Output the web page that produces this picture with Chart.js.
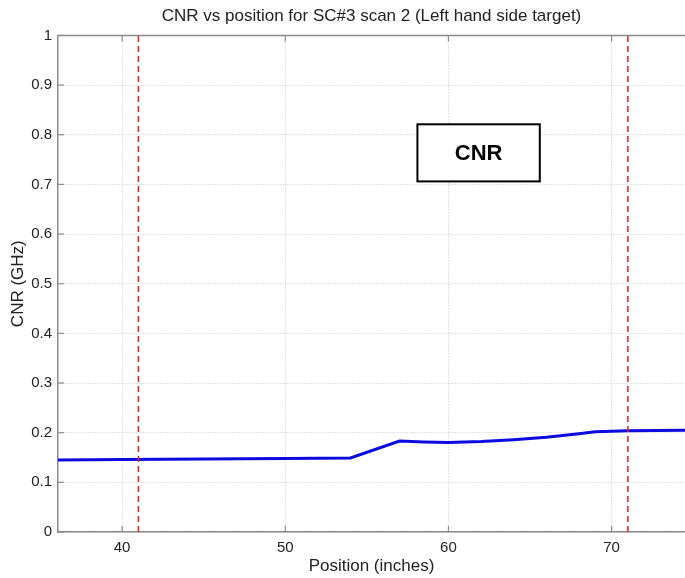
<!DOCTYPE html>
<html><head><meta charset="utf-8">
<script src="https://cdn.jsdelivr.net/npm/chart.js@4/dist/chart.umd.min.js"></script>
<style>html,body{margin:0;padding:0;background:#fff;overflow:hidden}#wrap{width:685px;height:578px}</style>
</head><body><div id="wrap"><canvas id="c" width="685" height="578"></canvas></div>
<script>
const positions = [36, 40, 45, 50, 54, 57, 58.5, 60, 62, 64, 66, 68, 69, 71, 74.5];
const cnrValues = [0.145, 0.146, 0.147, 0.148, 0.149, 0.183, 0.181, 0.180, 0.182, 0.186, 0.191, 0.198, 0.202, 0.204, 0.205];
const targetEdges = [41, 71];
const xTicks = [40, 50, 60, 70];
const yTicks = [0, 0.1, 0.2, 0.3, 0.4, 0.5, 0.6, 0.7, 0.8, 0.9, 1];
const xRange = [36.07, 74.5];
const yRange = [0, 1];
const boxLabel = 'CNR';
const boxX = [58.1, 65.6];
const boxY = [0.706, 0.821];
const titleText = 'CNR vs position for SC#3 scan 2 (Left hand side target)';
const xTitle = 'Position (inches)';
const yTitle = 'CNR (GHz)';

const FONT = "'Liberation Sans', Arial, Helvetica, sans-serif";
const AXIS = '#8a8a8a';
const TXT = '#222';

const datasets = [{
  data: positions.map((p, i) => ({x: p, y: cnrValues[i]})),
  showLine: true, borderColor: 'rgb(10,10,225)', borderWidth: 3, pointRadius: 0, tension: 0, order: 1
}];
targetEdges.forEach(e => datasets.push({
  data: [{x: e, y: yRange[0]}, {x: e, y: yRange[1]}],
  showLine: true, borderColor: '#e02020', borderWidth: 1.5, borderDash: [6, 4], pointRadius: 0, order: 0
}));

const extras = {
  id: 'extras',
  afterDatasetsDraw(chart) {
    const {ctx, chartArea: a, scales: {x, y}} = chart;
    ctx.save();
    ctx.strokeStyle = AXIS; ctx.lineWidth = 1.5; ctx.setLineDash([]);
    ctx.beginPath(); ctx.moveTo(a.left, a.top); ctx.lineTo(a.right, a.top); ctx.stroke();
    ctx.lineWidth = 1.2;
    xTicks.forEach(v => { const px = x.getPixelForValue(v);
      ctx.beginPath(); ctx.moveTo(px, a.bottom); ctx.lineTo(px, a.bottom - 6); ctx.stroke();
      ctx.beginPath(); ctx.moveTo(px, a.top); ctx.lineTo(px, a.top + 6); ctx.stroke(); });
    yTicks.forEach(v => { const py = y.getPixelForValue(v);
      ctx.beginPath(); ctx.moveTo(a.left, py); ctx.lineTo(a.left + 6, py); ctx.stroke(); });
    const bx1 = x.getPixelForValue(boxX[0]), bx2 = x.getPixelForValue(boxX[1]);
    const by1 = y.getPixelForValue(boxY[1]), by2 = y.getPixelForValue(boxY[0]);
    ctx.fillStyle = '#fff'; ctx.fillRect(bx1, by1, bx2 - bx1, by2 - by1);
    ctx.strokeStyle = '#000'; ctx.lineWidth = 2; ctx.strokeRect(bx1, by1, bx2 - bx1, by2 - by1);
    ctx.fillStyle = '#000'; ctx.font = "bold 22px " + FONT; ctx.textAlign = 'center'; ctx.textBaseline = 'middle';
    ctx.fillText(boxLabel, (bx1 + bx2) / 2, (by1 + by2) / 2 + 1);
    ctx.restore();
  }
};

new Chart(document.getElementById('c'), {
  type: 'scatter',
  data: {datasets},
  plugins: [extras],
  options: {
    responsive: false, animation: false, devicePixelRatio: 1,
    layout: {padding: {top: 0, right: 0, bottom: 0, left: 0}},
    plugins: {
      legend: {display: false}, tooltip: {enabled: false},
      title: {display: true, text: titleText, fullSize: false, color: TXT,
        font: {family: FONT, size: 17, weight: 'normal'}, padding: {top: 6, bottom: 9}}
    },
    scales: {
      x: {type: 'linear', min: xRange[0], max: xRange[1],
        afterBuildTicks: s => { s.ticks = xTicks.map(v => ({value: v})); },
        afterFit: s => { s.height = 46; },
        ticks: {color: TXT, font: {family: FONT, size: 15}, padding: 7, maxRotation: 0, callback: v => String(v)},
        grid: {color: '#c4c4c4', lineWidth: 1, drawTicks: false},
        border: {color: AXIS, width: 1.5, dash: [1, 2]},
        title: {display: true, text: xTitle, color: TXT, font: {family: FONT, size: 17}, padding: {top: 0, bottom: 1}}
      },
      y: {type: 'linear', min: yRange[0], max: yRange[1],
        afterBuildTicks: s => { s.ticks = yTicks.map(v => ({value: v})); },
        afterFit: s => { s.width = 58; },
        ticks: {color: TXT, font: {family: FONT, size: 15}, padding: 6, callback: v => String(v)},
        grid: {color: '#c4c4c4', lineWidth: 1, drawTicks: false},
        border: {color: AXIS, width: 1.5, dash: [1, 2]},
        title: {display: true, text: yTitle, color: TXT, font: {family: FONT, size: 17}, padding: {top: 8, bottom: 0}}
      }
    }
  }
});
</script></body></html>
